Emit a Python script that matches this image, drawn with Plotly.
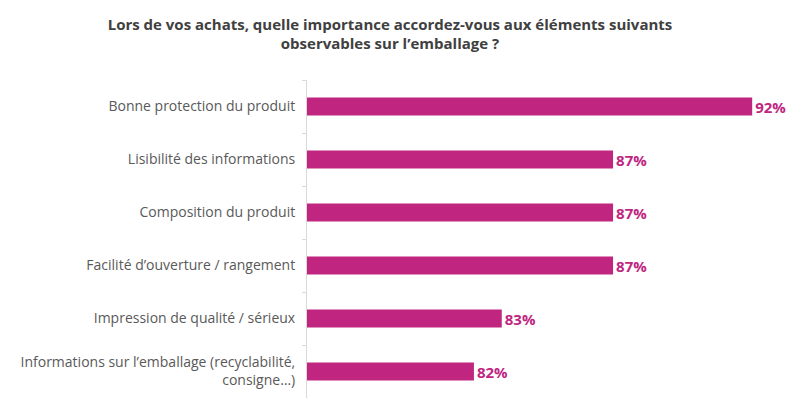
import plotly.graph_objects as go

# Categories (top to bottom) and scores in %
criteres = [
    "Bonne protection du produit",
    "Lisibilité des informations",
    "Composition du produit",
    "Facilité d’ouverture / rangement",
    "Impression de qualité / sérieux",
    "Informations sur l’emballage (recyclabilité,<br>consigne…)",
]
scores = [92, 87, 87, 87, 83, 82]

rose = "#C0267F"
police = "Open Sans"

fig = go.Figure()
fig.add_trace(go.Bar(
    x=scores,
    y=criteres,
    orientation="h",
    marker=dict(color=rose, line=dict(width=0)),
    width=0.34,
    text=[f"{v}%" for v in scores],
    textposition="outside",
    constraintext="none",
    textfont=dict(color=rose, size=15, family=police, weight="bold"),
    cliponaxis=False,
    hoverinfo="skip",
))

# the page adds an 8px body margin, so margins are shifted by 8px
fig.update_layout(
    width=811,
    height=407,
    margin=dict(l=299, r=39, t=72, b=17),
    paper_bgcolor="white",
    plot_bgcolor="white",
    showlegend=False,
    font=dict(family=police, size=13, color="#595959"),
    title=dict(
        text="Lors de vos achats, quelle importance accordez-vous aux éléments suivants<br>observables sur l’emballage ?",
        x=0.471, xref="container", xanchor="center",
        y=0.947, yref="container", yanchor="middle",
        font=dict(family=police, size=15, color="#404040", weight="bold"),
    ),
)

fig.update_xaxes(range=[76, 93], visible=False)
fig.update_yaxes(
    autorange="reversed",
    showline=True, linecolor="#D9D9D9", linewidth=1,
    ticks="outside", tickson="boundaries", ticklen=4, tickcolor="#D9D9D9",
    showgrid=False,
    tickfont=dict(family=police, size=14, color="#595959"),
    ticklabelstandoff=8,
)

fig.write_html("out.html")
